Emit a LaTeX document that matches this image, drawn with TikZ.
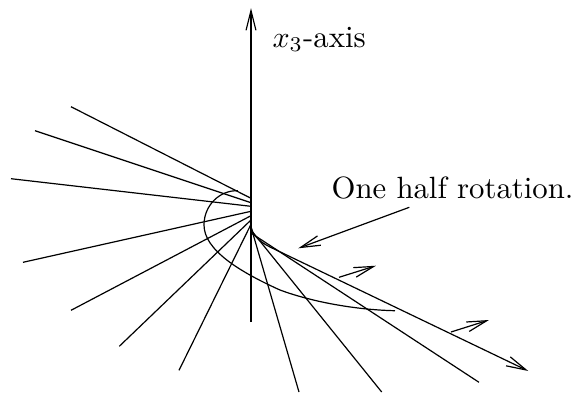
\documentclass[tikz,border=0pt]{standalone}
\usepackage{amsmath}
\usetikzlibrary{arrows.meta}

\begin{document}
\begin{tikzpicture}[
  x=0.3333pt, y=-0.3333pt,
  font=\fontsize{10.25}{12}\selectfont,
  ray/.style={-, black, line width=0.4pt},
  spiral/.style={-, black, line width=0.4pt},
  barb/.style={-{Straight Barb[length=6.6pt, width=3.3pt]}, black, line width=0.4pt}
]
  \useasboundingbox (0,0) rectangle (578,393);
  % axis
  \coordinate (axisbot) at (251,322);
  \coordinate (axistop) at (251,8);
  \draw[barb] (axisbot) -- (axistop);
  \node[anchor=base west, inner sep=0pt] (axislab) at (272,47) {$x_3$-axis};
  % rays on the back side
  \foreach \i/\xa/\ya/\xb/\yb in {1/251/198.3/71/106.7, 2/251/202.7/35/130.7,
      3/251/206.3/11/178.7, 4/251/211.3/23/262.3, 5/251/215.7/71/310.3,
      6/251/220/119.3/346.3, 7/251/224.3/179/370.3} {
    \coordinate (a\i) at (\xa,\ya);
    \coordinate (b\i) at (\xb,\yb);
    \draw[ray] (a\i) -- (b\i);
  }
  % rays on the front side
  \foreach \i/\xa/\ya/\xb/\yb in {8/251/227/299/392, 9/251/230/381.7/392,
      10/251/233/479/382.3} {
    \coordinate (a\i) at (\xa,\ya);
    \coordinate (b\i) at (\xb,\yb);
    \draw[ray] (a\i) -- (b\i);
  }
  \coordinate (a11) at (251,226);
  \coordinate (b11) at (528.3,371);
  \draw[barb] (a11) .. controls (252,234) and (258,241) .. (270,247) -- (b11);
  % rotation curve
  \draw[spiral] (238,190.7) .. controls (220,190) and (204,205) .. (204,225)
    .. controls (204,250) and (240,272) .. (280,290)
    .. controls (315,303) and (360,310) .. (395,310.7);
  % labels and small arrows
  \node[anchor=base west, inner sep=0pt] (halflab) at (331,198) {One half rotation.};
  \coordinate (halfstart) at (409.3,207.3);
  \coordinate (halfend) at (298.3,248.3);
  \draw[barb] (halfstart) -- (halfend);
  \coordinate (ca) at (339,277.3);
  \coordinate (cb) at (376,265.7);
  \draw[barb] (ca) -- (cb);
  \coordinate (da) at (451,332);
  \coordinate (db) at (489,320);
  \draw[barb] (da) -- (db);
\end{tikzpicture}
\end{document}
